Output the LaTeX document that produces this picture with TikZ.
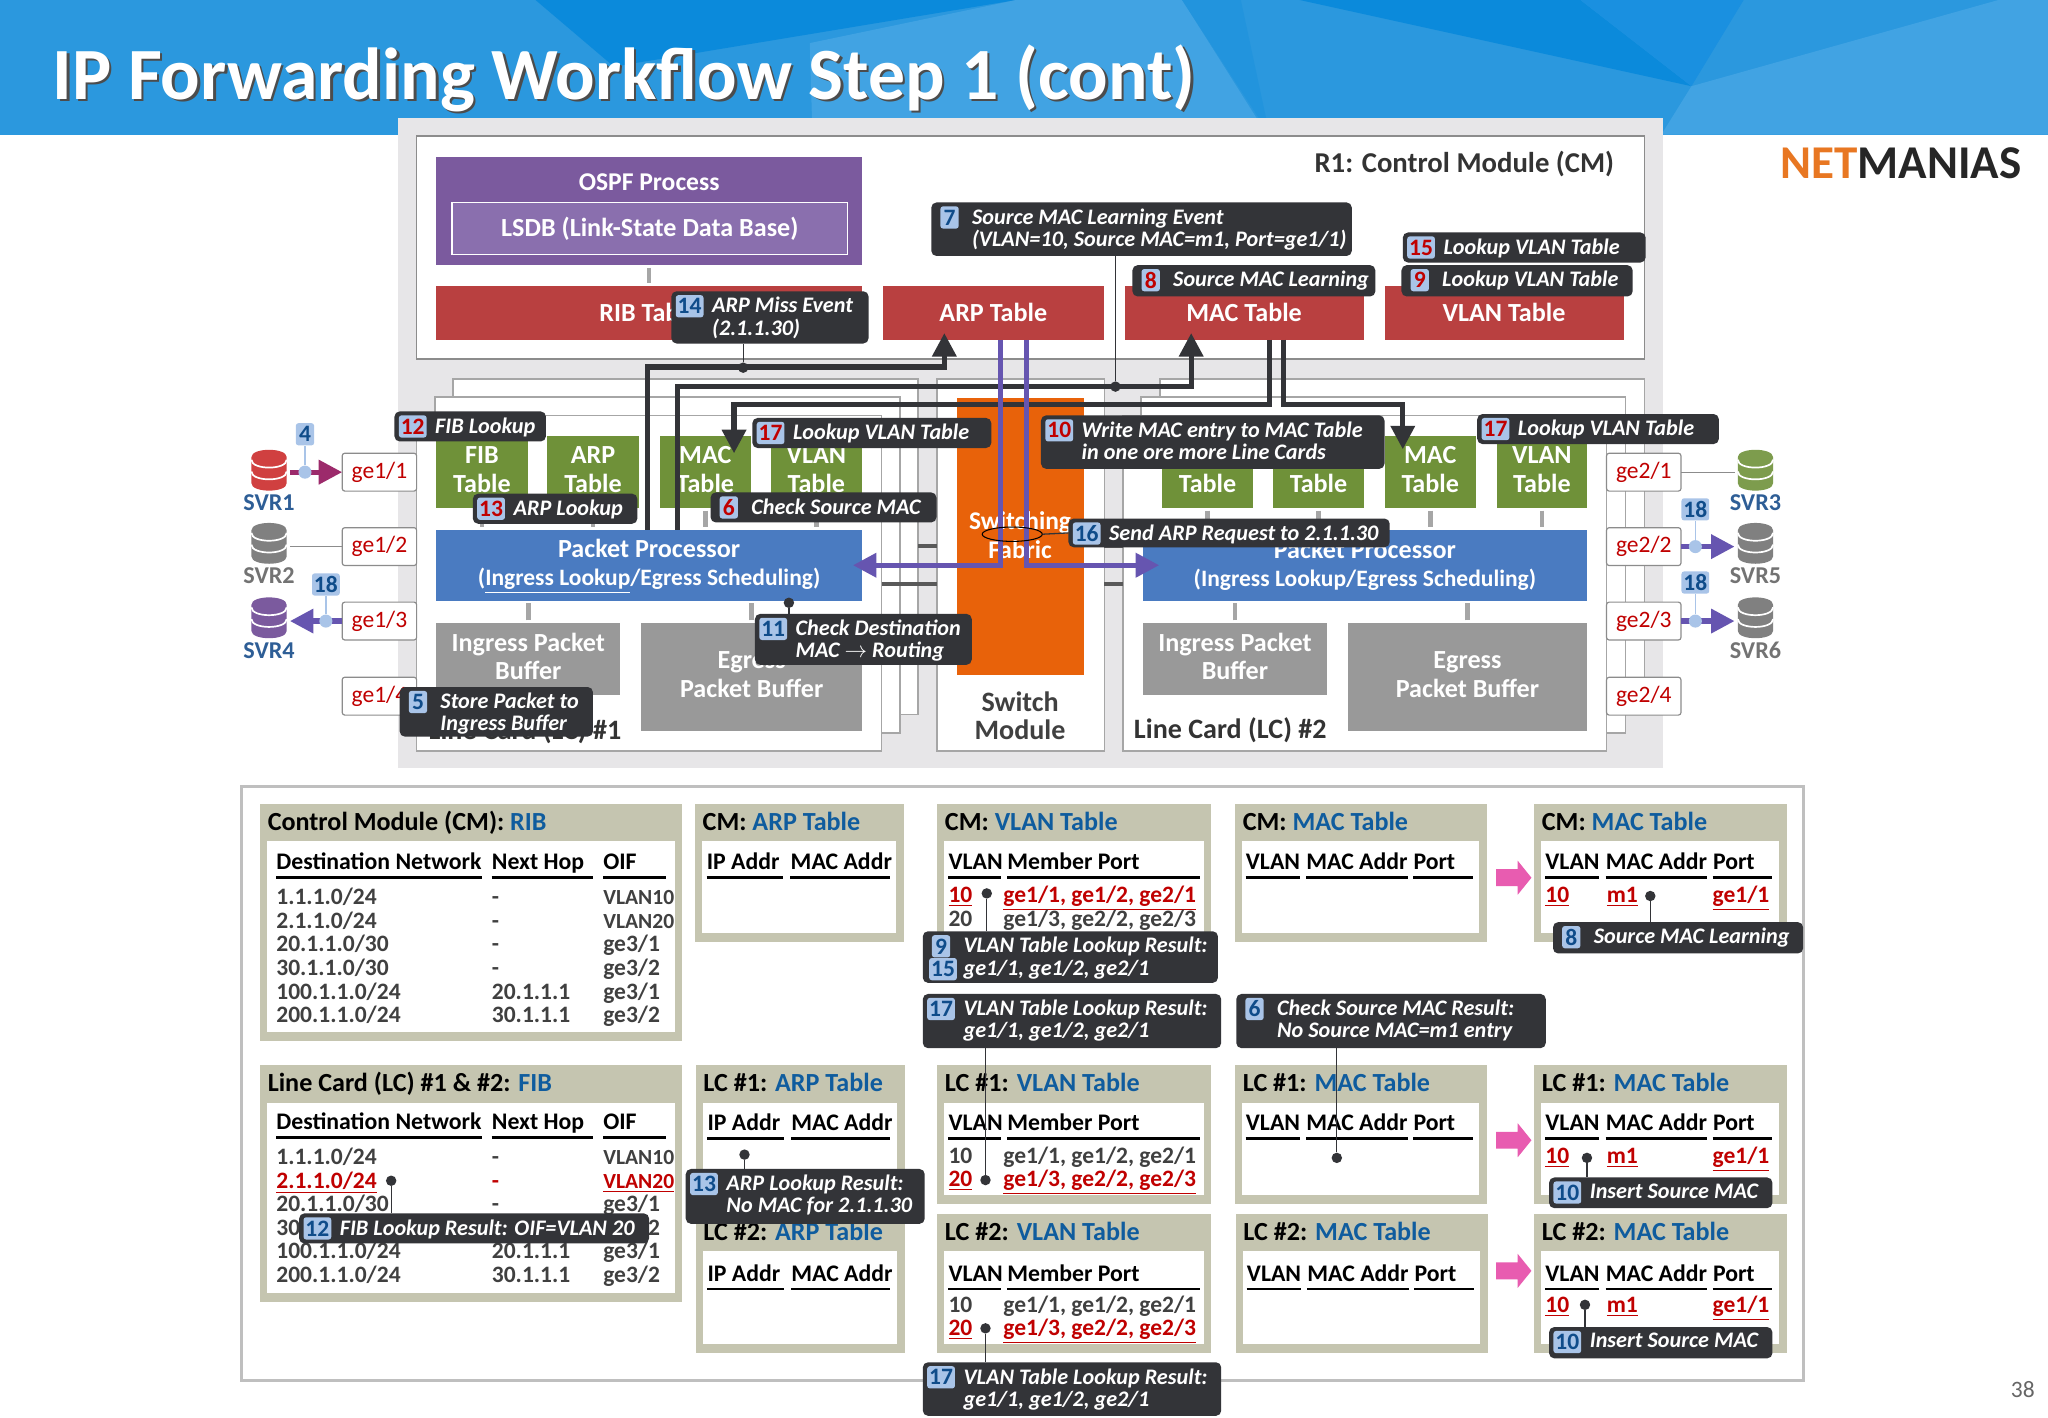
\documentclass[tikz,border=0pt]{standalone}
\usepackage{fontspec}
\setmainfont{Carlito}
\usepackage{amsmath}
\usetikzlibrary{arrows.meta, positioning, calc, shapes.geometric}
\definecolor{cbar}{HTML}{2B98DE}
\definecolor{cbardark}{HTML}{0B8ADB}
\definecolor{cbarmid}{HTML}{1A90E0}
\definecolor{cbarlight}{HTML}{41A3E3}
\definecolor{cbarstrip}{HTML}{2294DD}
\definecolor{cpanel}{HTML}{E7E6E8}
\definecolor{cedge}{HTML}{8C8C8C}
\definecolor{cpurple}{HTML}{7B5A9E}
\definecolor{cpurplein}{HTML}{8A6FAE}
\definecolor{cred}{HTML}{B94040}
\definecolor{cgreen}{HTML}{6F9139}
\definecolor{cblue}{HTML}{4A7BC1}
\definecolor{cgray}{HTML}{999999}
\definecolor{corange}{HTML}{E8620A}
\definecolor{cdark}{HTML}{333438}
\definecolor{cbadge}{HTML}{A9C4E8}
\definecolor{cnumred}{HTML}{C00000}
\definecolor{cnumblue}{HTML}{0F4C8A}
\definecolor{cviolet}{HTML}{6655B0}
\definecolor{cmagenta}{HTML}{9C2A6B}
\definecolor{ctan}{HTML}{C5C5B0}
\definecolor{ctitle}{HTML}{0F5C9E}
\definecolor{cpink}{HTML}{E85CB0}
\definecolor{clogo}{HTML}{E87722}
\definecolor{csvr}{HTML}{2E5E96}
\tikzset{
  boxbase/.style={inner sep=0pt, outer sep=0pt, align=center, font=\fontsize{20}{22}\selectfont\bfseries},
  hostbox/.style={fill=white, draw=cedge, line width=1.2pt, text=black!80},
  stackbox/.style={fill=white, draw=black!35, line width=1.2pt},
  redbox/.style={fill=cred, text=white},
  greenbox/.style={fill=cgreen, text=white},
  bluebox/.style={fill=cblue, text=white},
  graybox/.style={fill=cgray, text=white},
  portbox/.style={fill=white, draw=black!45, line width=0.9pt, rounded corners=2pt, text=cnumred, font=\fontsize{18}{20}\selectfont},
  stub/.style={draw=black!35, line width=3.5pt, shorten <=2pt, shorten >=2pt},
  backbar/.style={draw=black!65, line width=3.5pt},
  route/.style={draw=cdark, line width=4pt, -{Triangle[width=18pt,length=18pt]}},
  routeviolet/.style={draw=cviolet, line width=4pt, -{Triangle[width=18pt,length=18pt]}},
  routemagenta/.style={draw=cmagenta, line width=4pt, -{Triangle[width=18pt,length=18pt]}},
  thinlink/.style={draw=black!45, line width=1pt},
  tap/.style={draw=cdark, line width=1pt},
  tapblue/.style={draw=cbadge, line width=1.2pt},
  dotmark/.style={circle, fill=cdark, inner sep=0pt, minimum size=8pt},
  dotblue/.style={circle, fill=cbadge, inner sep=0pt, minimum size=10pt},
  calloutbox/.style={fill=cdark, rounded corners=4pt},
  calloutext/.style={anchor=north west, inner sep=0pt, align=left, text=white, font=\fontsize{17}{17}\selectfont\bfseries\itshape},
  badgeblue/.style={fill=cbadge, rounded corners=2pt, inner sep=1.5pt, minimum width=14pt, minimum height=17pt, text=cnumblue, font=\fontsize{18}{18}\selectfont\bfseries},
  badgered/.style={badgeblue, text=cnumred},
  svrname/.style={inner sep=0pt, font=\fontsize{18.5}{19}\selectfont\bfseries},
  panelbox/.style={fill=ctan},
  innerbox/.style={fill=white},
  titletext/.style={anchor=base west, inner sep=0pt, font=\fontsize{20}{22}\selectfont\bfseries},
  hdtext/.style={anchor=base west, inner sep=0pt, text=black, font=\fontsize{18.2}{19}\selectfont\bfseries},
  hdrule/.style={draw=black, line width=2pt},
  rowtext/.style={anchor=base west, inner sep=0pt, text=black!75, font=\fontsize{18}{19}\selectfont\bfseries},
}
\newcommand{\boxat}[7][]{%
  \pgfmathsetmacro\bxw{(#5)-(#3)}\pgfmathsetmacro\bxh{(#6)-(#4)}%
  \node[boxbase,#1,minimum width=\bxw pt,minimum height=\bxh pt] (#2) at ({((#3)+(#5))/2},{((#4)+(#6))/2}) {#7};}
\newcommand{\callout}[8][badgered]{%
  \boxat[calloutbox]{#2}{#3}{#4}{#5}{#6}{}
  \node[#1] (#2n) at ({#3+14},{#4+11.5}) {#7};
  \node[calloutext] (#2t) at ({#3+31},{#4+4.5}) {#8};}
\newcommand{\tablepanel}[6]{%
  \boxat[panelbox]{#1}{#2}{#3}{#4}{#5}{}
  \boxat[innerbox]{#1in}{#2+5.6}{#3+28.6}{#4-5.8}{#5-6.8}{}
  \node[titletext] (#1ttl) at ({#2+5.8},{#3+20}) {#6};}
\newcommand{\ttl}[2]{#1: \textcolor{ctitle}{#2}}
\newcommand{\hdcell}[5]{%
  \node[hdtext] (#1) at (#2,{#4-6}) {#5};
  \draw[hdrule] (#2,#4) -- (#3,#4);}
\newcommand{\arphdr}[3]{%
  \hdcell{#1a}{#2}{#2+58.6}{#3}{IP Addr}
  \hdcell{#1b}{#2+64.2}{#2+140.2}{#3}{MAC Addr}}
\newcommand{\vlanhdr}[2]{%
  \hdcell{#1a}{726}{766.5}{#2}{VLAN}
  \hdcell{#1b}{771}{918.4}{#2}{Member Port}}
\newcommand{\machdr}[3]{%
  \hdcell{#1a}{#2}{#2+41.5}{#3}{VLAN}
  \hdcell{#1b}{#2+46.3}{#2+124}{#3}{MAC Addr}
  \hdcell{#1c}{#2+128.3}{#2+174}{#3}{Port}}
\newcommand{\redu}[1]{\textcolor{cnumred}{\underline{#1}}}
\newcommand{\vlanid}[1]{{\fontsize{16.5}{19}\selectfont VLAN#1}}
\newcommand{\liftup}{\rule[-4pt]{0pt}{4pt}}
% route table body, #3 is the row shown in red
\newcommand{\routerows}[3]{%
  \hdcell{#1a}{211.4}{369}{#2-20.5}{Destination Network}
  \hdcell{#1b}{376.4}{453.7}{#2-20.5}{Next Hop}
  \hdcell{#1c}{461.7}{510}{#2-20.5}{OIF}
  \foreach \net/\hop/\oif [count=\r] in {{1.1.1.0/24}/-/\vlanid{10},{2.1.1.0/24}/-/\vlanid{20},{20.1.1.0/30}/-/{ge3/1},{30.1.1.0/30}/-/{ge3/2},{100.1.1.0/24}/20.1.1.1/{ge3/1},{200.1.1.0/24}/30.1.1.1/{ge3/2}}{
    \pgfmathsetmacro\ry{#2+(\r-1)*18.1}
    \ifnum\r=#3
      \node[rowtext] (#1n\r) at (211.4,\ry) {\redu{\net}};
      \node[rowtext] (#1h\r) at (376.4,\ry) {\textcolor{cnumred}{\hop}};
      \node[rowtext] (#1o\r) at (461.7,\ry) {\redu{\oif}};
    \else
      \node[rowtext] (#1n\r) at (211.4,\ry) {\net};
      \node[rowtext] (#1h\r) at (376.4,\ry) {\hop};
      \node[rowtext] (#1o\r) at (461.7,\ry) {\oif};
    \fi
  }}
\newcommand{\server}[4]{%
  \node[inner sep=0pt, minimum size=27pt] (#1) at (#2,#3) {};
  \fill[#4] ({#2-13.5},{#3-10}) .. controls ({#2-13.5},{#3-17.5}) and ({#2+13.5},{#3-17.5}) .. ({#2+13.5},{#3-10})
    -- ({#2+13.5},{#3+10}) .. controls ({#2+13.5},{#3+17.5}) and ({#2-13.5},{#3+17.5}) .. ({#2-13.5},{#3+10}) -- cycle;
  \foreach \dy in {-8,1}{
    \draw[white, line width=1.3pt] ({#2-13.5},{#3+\dy}) .. controls ({#2-13.5},{#3+\dy+8}) and ({#2+13.5},{#3+\dy+8}) .. ({#2+13.5},{#3+\dy});
  }}
\begin{document}
\begin{tikzpicture}[x=1pt, y=-1pt]
  \useasboundingbox (0,0) rectangle (1568,1085.6);
  \fill[white] (0,0) rectangle (1568,1085.6);
  % title bar
  \fill[cbar] (0,0) rectangle (1568,103);
  \fill[cbardark] (410,0) -- (778,0) -- (470,51) -- cycle;
  \fill[cbarlight] (778,0) -- (905,0) -- (970,103) -- (622,103) -- (620,33) -- cycle;
  \fill[cbarstrip] (905,0) -- (950,0) -- (972,103) -- cycle;
  \fill[cbardark] (995,0) -- (1210,0) -- (1295,66) -- cycle;
  \fill[cbarmid] (1210,0) -- (1335,0) -- (1295,66) -- cycle;
  \fill[cbarlight] (1295,66) -- (1530,0) -- (1568,0) -- (1568,103) -- (1272,103) -- cycle;
  \node[anchor=base west, inner sep=0pt, text=black!70, font=\fontsize{56.4}{58}\selectfont\bfseries] (titleshadow) at (42,77.5) {IP Forwarding Workflow Step 1 (cont)};
  \node[anchor=base west, inner sep=0pt, text=white, font=\fontsize{56.4}{58}\selectfont\bfseries] (title) at (40,76) {IP Forwarding Workflow Step 1 (cont)};
  \node[anchor=base west, inner sep=0pt, font=\fontsize{36}{38}\selectfont\bfseries] (logo) at (1363,137) {\textcolor{clogo}{NET}\textcolor{black!85}{MANIAS}};
  \node[anchor=base east, inner sep=0pt, text=black!60, font=\fontsize{18}{20}\selectfont] (pageno) at (1558,1070) {38};
  % router panel
  \boxat[fill=cpanel]{routerpanel}{305}{90}{1273}{588}{}
  \boxat[hostbox]{cm}{319}{104}{1259}{275}{}
  \node[anchor=east, inner sep=0pt, text=black!80, font=\fontsize{22}{24}\selectfont\bfseries] (cmname) at (1236,125.5) {R1: Control Module (CM)};
  \boxat[fill=cpurple, text=white]{ospf}{334}{120}{660}{203}{}
  \node[text=white, inner sep=0pt, font=\fontsize{19.6}{22}\selectfont\bfseries] (ospfname) at (497,139.5) {OSPF Process};
  \boxat[fill=cpurplein, draw=white, line width=1.2pt, text=white]{lsdb}{346}{155}{649}{195}{LSDB (Link-State Data Base)}
  \boxat[redbox]{ribcm}{334}{219}{660}{260}{RIB Table}
  \boxat[redbox]{arpcm}{676}{219}{845}{260}{ARP Table}
  \boxat[redbox]{maccm}{861}{219}{1044}{260}{MAC Table}
  \boxat[redbox]{vlancm}{1060}{219}{1243}{260}{VLAN Table}
  \draw[stub] (ospf.south) -- (ribcm.north);
  % line card stacks
  \boxat[stackbox]{lcl3}{347}{290}{703}{547}{}
  \boxat[stackbox]{lcl2}{333}{304}{689}{561}{}
  \boxat[stackbox]{lcl1}{319}{318}{675}{575}{}
  \boxat[stackbox]{lcr3}{888}{290}{1259}{547}{}
  \boxat[stackbox]{lcr2}{873.5}{304}{1244.5}{561}{}
  \boxat[stackbox]{lcr1}{860}{318}{1230}{575}{}
  \boxat[stackbox]{swm}{717.5}{290}{845.5}{575}{}
  \boxat[fill=corange, text=white]{fabric}{733}{305}{830}{517}{}
  \node[text=white, inner sep=0pt, align=center, font=\fontsize{19.5}{22.5}\selectfont\bfseries] (fabricname) at (781,409.5) {Switching\\Fabric};
  \node[text=black!75, inner sep=0pt, align=center, font=\fontsize{21.5}{22}\selectfont\bfseries] (swmname) at (781,548) {Switch\\Module};
  \node[anchor=west, inner sep=0pt, text=black!80, font=\fontsize{21.5}{23}\selectfont\bfseries] (lclname) at (328,560) {Line Card (LC) \#1};
  \node[anchor=west, inner sep=0pt, text=black!80, font=\fontsize{21.5}{23}\selectfont\bfseries] (lcrname) at (868,559) {Line Card (LC) \#2};
  \draw[backbar] (703,418) -- (717.5,418);
  \draw[backbar] (675,447) -- (717.5,447);
  \draw[backbar] (845.5,447) -- (860,447);
  \draw[backbar] (845.5,418) -- (860,418);
  \foreach \n/\xa/\xb/\lbl in {fibl/334/404/FIB,arpl/419/489/ARP,macl/505/575/MAC,vlanl/590/660/VLAN,fibr/890/959/FIB,arpr/975/1044/ARP,macr/1060/1130/MAC,vlanr/1146/1215/VLAN}{
    \boxat[greenbox]{\n}{\xa}{334}{\xb}{389}{\lbl\\Table\liftup}
  }
  \boxat[bluebox]{ppl}{334}{405.5}{660}{460}{\rule{0pt}{16pt}Packet Processor\\[-1pt]{\fontsize{18}{20}\selectfont(\underline{Ingress Lookup}/Egress Scheduling)}}
  \boxat[bluebox]{ppr}{875}{405.5}{1215}{460}{\rule{0pt}{14pt}Packet Processor\\[-1pt]{\fontsize{18}{20}\selectfont(Ingress Lookup/Egress Scheduling)}}
  \boxat[graybox]{ingl}{334}{477}{475}{532}{Ingress Packet\\Buffer\liftup}
  \boxat[graybox]{egl}{491}{477}{660}{560}{Egress\\Packet Buffer\liftup}
  \boxat[graybox]{ingr}{875}{477}{1016}{532}{Ingress Packet\\Buffer\liftup}
  \boxat[graybox]{egr}{1032}{477}{1215}{560}{Egress\\Packet Buffer\liftup}
  \foreach \n in {fibl,arpl,macl,vlanl}{
    \draw[stub] (\n.south) -- (\n.south |- ppl.north);
  }
  \foreach \n in {fibr,arpr,macr,vlanr}{
    \draw[stub] (\n.south) -- (\n.south |- ppr.north);
  }
  \foreach \n/\p in {ingl/ppl,egl/ppl,ingr/ppr,egr/ppr}{
    \draw[stub] (\n.north) -- (\n.north |- \p.south);
  }
  % ports and servers
  \foreach \i/\ya in {1/347,2/404,3/461,4/518.5}{
    \boxat[portbox]{gel\i}{262}{\ya}{319}{\ya+29}{ge1/\i}
    \boxat[portbox]{ger\i}{1230}{\ya}{1287}{\ya+29}{ge2/\i}
  }
  \server{svra}{206}{360}{cnumred!75!white}
  \server{svrb}{206}{416}{black!50}
  \server{svrd}{206}{473}{cpurple}
  \server{svrc}{1344}{360}{cgreen!90!white}
  \server{svre}{1344}{416}{black!50}
  \server{svrf}{1344}{473}{black!50}
  \node[svrname, text=csvr] (svranm) at (206,385) {SVR1};
  \node[svrname, text=black!55] (svrbnm) at (206,441) {SVR2};
  \node[svrname, text=csvr] (svrdnm) at (206,498) {SVR4};
  \node[svrname, text=csvr] (svrcnm) at (1344,385) {SVR3};
  \node[svrname, text=black!55] (svrenm) at (1344,441) {SVR5};
  \node[svrname, text=black!55] (svrfnm) at (1344,498) {SVR6};
  \draw[routemagenta] ([xshift=16pt]svra.center |- gel1.west) -- (gel1.west);
  \draw[thinlink] ([xshift=16pt]svrb.center |- gel2.west) -- (gel2.west);
  \draw[routeviolet] (gel3.west) -- ([xshift=16pt]svrd.center |- gel3.west);
  \draw[thinlink] (ger1.east) -- ([xshift=-16pt]svrc.center |- ger1.east);
  \draw[routeviolet] (ger2.east) -- ([xshift=-16pt]svre.center |- ger2.east);
  \draw[routeviolet] (ger3.east) -- ([xshift=-16pt]svrf.center |- ger3.east);
  \node[dotblue] (tapa) at (233.5,361.5) {};
  \node[dotblue] (tapd) at (249.5,475.5) {};
  \node[dotblue] (tape) at (1298,418.5) {};
  \node[dotblue] (tapf) at (1298,475.5) {};
  \node[badgeblue] (stepa) at (233.5,332.5) {4};
  \node[badgeblue] (stepd) at (249.5,447.5) {18};
  \node[badgeblue] (stepe) at (1298,390) {18};
  \node[badgeblue] (stepf) at (1298,446) {18};
  \foreach \a/\b in {tapa/stepa,tapd/stepd,tape/stepe,tapf/stepf}{
    \draw[tapblue] (\a) -- (\b);
  }
  % thick routes
  \draw[route] ([xshift=-1pt]ppl.north) -- ++(0,-124.5) -| ([xshift=-37.5pt,yshift=5pt]arpcm.south);
  \draw[route] ([xshift=22pt]ppl.north) -- ++(0,-109.5) -| ([xshift=-40.5pt,yshift=5pt]maccm.south);
  \draw[route] ([xshift=19.5pt]maccm.south) -- ++(0,49.5) -| ([xshift=22pt,yshift=-13pt]macl.north);
  \draw[route] ([xshift=30pt]maccm.south) -- ++(0,49.5) -| ([xshift=-21pt,yshift=-10pt]macr.north);
  \draw[routeviolet] ([xshift=5.5pt]arpcm.south) |- ([xshift=-7pt]ppl.east);
  \draw[routeviolet] ([xshift=25.5pt]arpcm.south) |- ([xshift=12.5pt]ppr.west);
  \node[dotmark] (tapmiss) at (569,281.5) {};
  \node[dotmark] (tapevent) at (854,296) {};
  \node[dotmark] (tapdest) at (604,461.5) {};
  \node[draw=black, ellipse, inner sep=0pt, line width=0.8pt, minimum width=46pt, minimum height=11pt] (oval) at (775,409) {};
  % callouts on the router
  \callout{stepfib}{302}{315}{418}{338}{12}{FIB Lookup}
  \callout{steparp}{362}{378}{488}{401}{13}{ARP Lookup}
  \callout{stepvl}{576}{320}{759}{343}{17}{Lookup VLAN Table}
  \callout{stepcheck}{544}{377}{717}{400}{6}{Check Source MAC}
  \callout[badgeblue]{stepmiss}{514}{223}{665}{263}{14}{ARP Miss Event\\(2.1.1.30)}
  \callout[badgeblue]{stepevent}{713}{155}{1035}{196}{7}{Source MAC Learning Event\\(VLAN=10, Source MAC=m1, Port=ge1/1)}
  \callout{steplvb}{1074}{178}{1260}{201}{15}{Lookup VLAN Table}
  \callout{steplva}{1073}{203}{1250}{227}{9}{Lookup VLAN Table}
  \callout{steplearn}{867}{203}{1053}{227}{8}{Source MAC Learning}
  \callout{stepwrite}{797}{318}{1060}{359}{10}{Write MAC entry to MAC Table\\in one ore more Line Cards}
  \callout{stepvr}{1131}{317}{1316}{340}{17}{Lookup VLAN Table}
  \callout[badgeblue]{stepsend}{818}{397}{1064}{419}{16}{Send ARP Request to 2.1.1.30}
  \callout[badgeblue]{stepdest}{578}{470}{744}{509}{11}{Check Destination\\MAC $\rightarrow$ Routing}
  \callout[badgeblue]{stepstore}{306}{526}{454}{564}{5}{Store Packet to\\Ingress Buffer}
  \draw[tap] (tapmiss) -- (tapmiss |- stepmiss.south);
  \draw[tap] (tapevent) -- (tapevent |- stepevent.south);
  \draw[tap] (tapdest) -- (tapdest |- stepdest.north);
  \draw[tap] (oval.east) -- (stepsend.west);
  % tables
  \boxat[fill=white, draw=black!25, line width=2.2pt]{tables}{185}{602}{1381}{1057}{}
  \tablepanel{ribt}{199}{615.5}{522.5}{797}{\ttl{Control Module (CM)}{RIB}}
  \routerows{ribr}{692.5}{0}
  \tablepanel{fibt}{199}{815.5}{522.5}{997}{\ttl{Line Card (LC) \#1 \& \#2}{FIB}}
  \routerows{fibr}{891.5}{2}
  \tablepanel{arpa}{532}{615.5}{692}{721.5}{\ttl{CM}{ARP Table}}
  \tablepanel{arpb}{532.5}{815.5}{692.5}{921.5}{\ttl{LC \#1}{ARP Table}}
  \tablepanel{arpc}{532.5}{929.5}{692.5}{1035.5}{\ttl{LC \#2}{ARP Table}}
  \arphdr{arpah}{541}{672}
  \arphdr{arpbh}{541.5}{871.5}
  \arphdr{arpch}{541.5}{987}
  \tablepanel{vlana}{717.5}{615.5}{927.5}{721.5}{\ttl{CM}{VLAN Table}}
  \tablepanel{vlanb}{717.5}{815.5}{927.5}{921.5}{\ttl{LC \#1}{VLAN Table}}
  \tablepanel{vlanc}{717.5}{929.5}{927.5}{1035.5}{\ttl{LC \#2}{VLAN Table}}
  \vlanhdr{vlanah}{672}
  \vlanhdr{vlanbh}{871.5}
  \vlanhdr{vlanch}{987}
  \node[rowtext] (vab) at (726,691) {\redu{10}};
  \node[rowtext] (vap) at (768,691) {\redu{ge1/1, ge1/2, ge2/1}};
  \node[rowtext] (vaq) at (726,709) {20};
  \node[rowtext] (var) at (768,709) {ge1/3, ge2/2, ge2/3};
  \foreach \n/\ya in {vb/890.5,vc/1004.5}{
    \node[rowtext] (\n a) at (726,\ya) {10};
    \node[rowtext] (\n b) at (768,\ya) {ge1/1, ge1/2, ge2/1};
    \node[rowtext] (\n c) at (726,\ya+18) {\redu{20}};
    \node[rowtext] (\n d) at (768,\ya+18) {\redu{ge1/3, ge2/2, ge2/3}};
  }
  \tablepanel{maca}{945.5}{615.5}{1138.5}{721.5}{\ttl{CM}{MAC Table}}
  \tablepanel{macb}{945.5}{815.5}{1138.5}{921.5}{\ttl{LC \#1}{MAC Table}}
  \tablepanel{macc}{946}{929.5}{1139}{1035.5}{\ttl{LC \#2}{MAC Table}}
  \machdr{macah}{953.7}{672}
  \machdr{macbh}{953.7}{871.5}
  \machdr{macch}{954.5}{987}
  \tablepanel{macd}{1174.5}{615.5}{1368}{721.5}{\ttl{CM}{MAC Table}}
  \tablepanel{mace}{1174.5}{815.5}{1368}{921.5}{\ttl{LC \#1}{MAC Table}}
  \tablepanel{macf}{1174.5}{929.5}{1368}{1035.5}{\ttl{LC \#2}{MAC Table}}
  \machdr{macdh}{1183}{672}
  \machdr{maceh}{1183}{871.5}
  \machdr{macfh}{1183}{987}
  \foreach \n/\ya in {macdr/691,macer/890.5,macfr/1004.5}{
    \node[rowtext] (\n a) at (1183,\ya) {\redu{10}};
    \node[rowtext] (\n b) at (1230,\ya) {\redu{m1}};
    \node[rowtext] (\n c) at (1311,\ya) {\redu{ge1/1}};
  }
  % pink arrows between before and after
  \foreach \ya in {659,860,960}{
    \fill[cpink] (1145.5,\ya+6.5) -- (1162,\ya+6.5) -- (1162,\ya) -- (1172.5,\ya+13) -- (1162,\ya+26) -- (1162,\ya+19.5) -- (1145.5,\ya+19.5) -- cycle;
  }
  \node[dotmark] (tapfib) at (299.5,904) {};
  \node[dotmark] (taparp) at (570,884) {};
  \node[dotmark] (tapva) at (755.5,684) {};
  \node[dotmark] (tapvb) at (754.5,903.5) {};
  \node[dotmark] (tapvc) at (754.5,1017) {};
  \node[dotmark] (tapmb) at (1023.5,886.5) {};
  \node[dotmark] (tapmd) at (1263.5,686) {};
  \node[dotmark] (tapme) at (1215,886.5) {};
  \node[dotmark] (tapmf) at (1213.5,999) {};
  % callouts on the tables
  \callout[badgeblue]{resfib}{229}{929}{497}{952}{12}{FIB Lookup Result: OIF=VLAN 20}
  \callout[badgeblue]{resarp}{525}{895}{708}{937}{13}{ARP Lookup Result:\\No MAC for 2.1.1.30}
  \callout[badgeblue]{resva}{706.5}{713}{932.5}{752.5}{9}{VLAN Table Lookup Result:\\ge1/1, ge1/2, ge2/1}
  \node[badgeblue] (resvb) at (722,742) {15};
  \callout[badgeblue]{resvc}{706.5}{761}{935}{802.5}{17}{VLAN Table Lookup Result:\\ge1/1, ge1/2, ge2/1}
  \callout[badgeblue]{resmac}{946.5}{761}{1183.5}{802.5}{6}{Check Source MAC Result:\\No Source MAC=m1 entry}
  \callout[badgeblue]{resvd}{706.5}{1043}{935}{1084}{17}{VLAN Table Lookup Result:\\ge1/1, ge1/2, ge2/1}
  \callout[badgeblue]{reslearn}{1189}{706}{1380.5}{730}{8}{Source MAC Learning}
  \callout[badgeblue]{resina}{1186}{901.5}{1357}{925}{10}{Insert Source MAC}
  \callout[badgeblue]{resinb}{1186}{1016}{1357}{1040}{10}{Insert Source MAC}
  \draw[tap] (tapfib) -- (tapfib |- resfib.north);
  \draw[tap] (taparp) -- (taparp |- resarp.north);
  \draw[tap] (tapva) -- (tapva |- resva.north);
  \draw[tap] (tapvb) -- (tapvb |- resvc.south);
  \draw[tap] (tapvc) -- (tapvc |- resvd.north);
  \draw[tap] (tapmb) -- (tapmb |- resmac.south);
  \draw[tap] (tapmd) -- (tapmd |- reslearn.north);
  \draw[tap] (tapme) -- (tapme |- resina.north);
  \draw[tap] (tapmf) -- (tapmf |- resinb.north);
\end{tikzpicture}
\end{document}
